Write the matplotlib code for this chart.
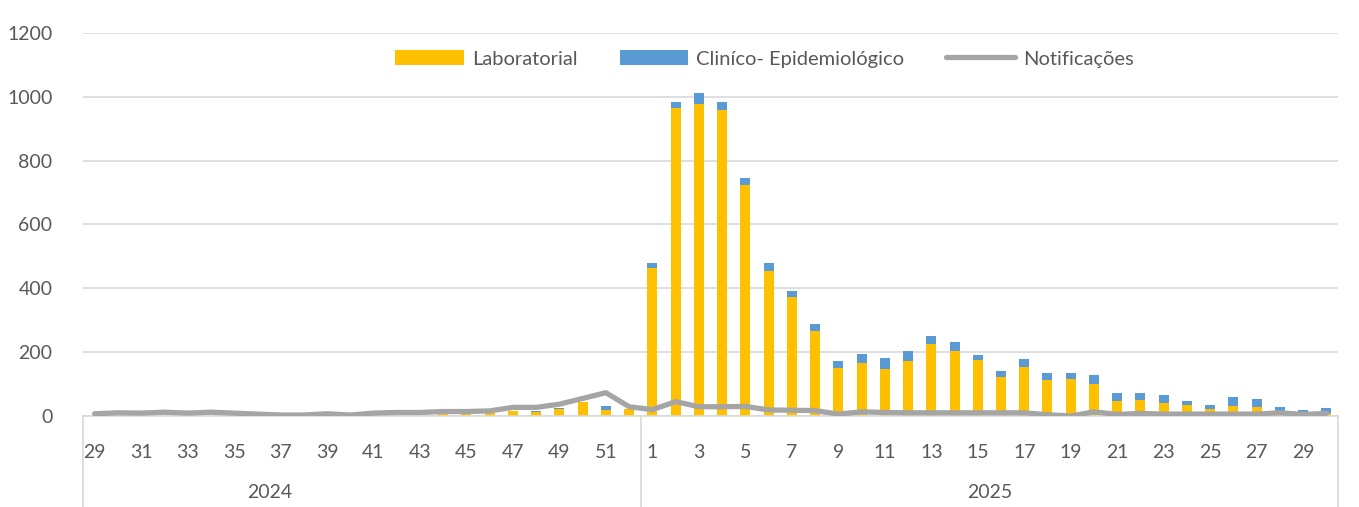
import matplotlib.pyplot as plt
import numpy as np

plt.rcParams['font.family'] = ['Lato', 'DejaVu Sans']

# semanas epidemiologicas: 29-52 de 2024 e 1-30 de 2025
weeks_2024 = list(range(29, 53))
weeks_2025 = list(range(1, 31))
years = ['2024', '2025']

laboratorial = [0, 0, 0, 0, 0, 0, 0, 0, 0, 0, 0, 0, 0, 0, 0,
                5, 5, 8, 17, 12, 22, 45, 20, 21,
                465, 964, 978, 960, 723, 453, 372, 267, 150, 167,
                147, 173, 226, 203, 175, 121, 154, 113, 115, 100,
                47, 50, 42, 34, 22, 32, 27, 5, 3, 8]
clinico = [0, 0, 0, 0, 0, 0, 0, 0, 0, 0, 0, 0, 0, 0, 0,
           0, 0, 0, 0, 5, 2, 0, 12, 0,
           15, 19, 33, 23, 23, 25, 20, 21, 22, 27,
           36, 30, 25, 29, 17, 19, 24, 23, 19, 28,
           26, 21, 24, 14, 14, 26, 25, 22, 15, 16]
notificacoes = [7, 10, 9, 12, 9, 12, 9, 6, 3, 3, 7, 3, 9, 11, 11,
                14, 14, 16, 27, 27, 37, 55, 73, 29,
                20, 45, 29, 29, 30, 19, 18, 17, 6, 13,
                11, 10, 10, 10, 10, 10, 10, 4, 0, 13,
                5, 8, 6, 6, 6, 6, 6, 10, 5, 8]

labels = [str(w) for w in weeks_2024] + [str(w) for w in weeks_2025]
x = np.arange(len(labels))

fig = plt.figure(figsize=(13.59, 5.07), dpi=100)
ax = fig.add_axes([83 / 1359, 1 - 416 / 507, 1255 / 1359, 383 / 507])

grid_c = '#D9D9D9'
text_c = '#595959'

b1 = ax.bar(x, laboratorial, width=0.43, color='#FFC000', zorder=2)
b2 = ax.bar(x, clinico, width=0.43, bottom=laboratorial, color='#5B9BD5', zorder=2)
ln, = ax.plot(x, notificacoes, color='#A5A5A5', lw=3.8, zorder=3,
              solid_joinstyle='round', solid_capstyle='round')

ax.set_xlim(-0.5, len(labels) - 0.5)
ax.set_ylim(0, 1200)
ax.set_yticks(range(0, 1201, 200))
ax.yaxis.grid(True, color=grid_c, lw=1.2)
ax.set_axisbelow(True)
for s in ['left', 'right', 'top']:
    ax.spines[s].set_visible(False)
ax.spines['bottom'].set_color(grid_c)
ax.spines['bottom'].set_linewidth(1.2)
ax.tick_params(axis='y', length=0, pad=22, labelsize=14, labelcolor=text_c)
ax.tick_params(axis='x', length=0, pad=20, labelsize=14, labelcolor=text_c)
ax.set_xticks(x[::2])
ax.set_xticklabels(labels[::2])

# separadores dos anos
for xv in [-0.5, len(weeks_2024) - 0.5, len(labels) - 0.5]:
    ax.plot([xv, xv], [0, -0.24], color=grid_c, lw=1.2, clip_on=False,
            transform=ax.get_xaxis_transform())
ax.text((270 - 83) / 1255, -0.2, years[0], transform=ax.transAxes, ha='center',
        va='center', fontsize=14, color=text_c)
ax.text((990 - 83) / 1255, -0.2, years[1], transform=ax.transAxes, ha='center',
        va='center', fontsize=14, color=text_c)

ax.legend([b1, b2, ln], ['Laboratorial', 'Cliníco- Epidemiológico', 'Notificações'],
          loc='upper center', bbox_to_anchor=(0.543, 1.003), ncol=3,
          frameon=False, fontsize=14.5, labelcolor=text_c, handlelength=3.4,
          handleheight=0.8, handletextpad=0.4, columnspacing=2.1)

fig.savefig('out.png', dpi=100)
